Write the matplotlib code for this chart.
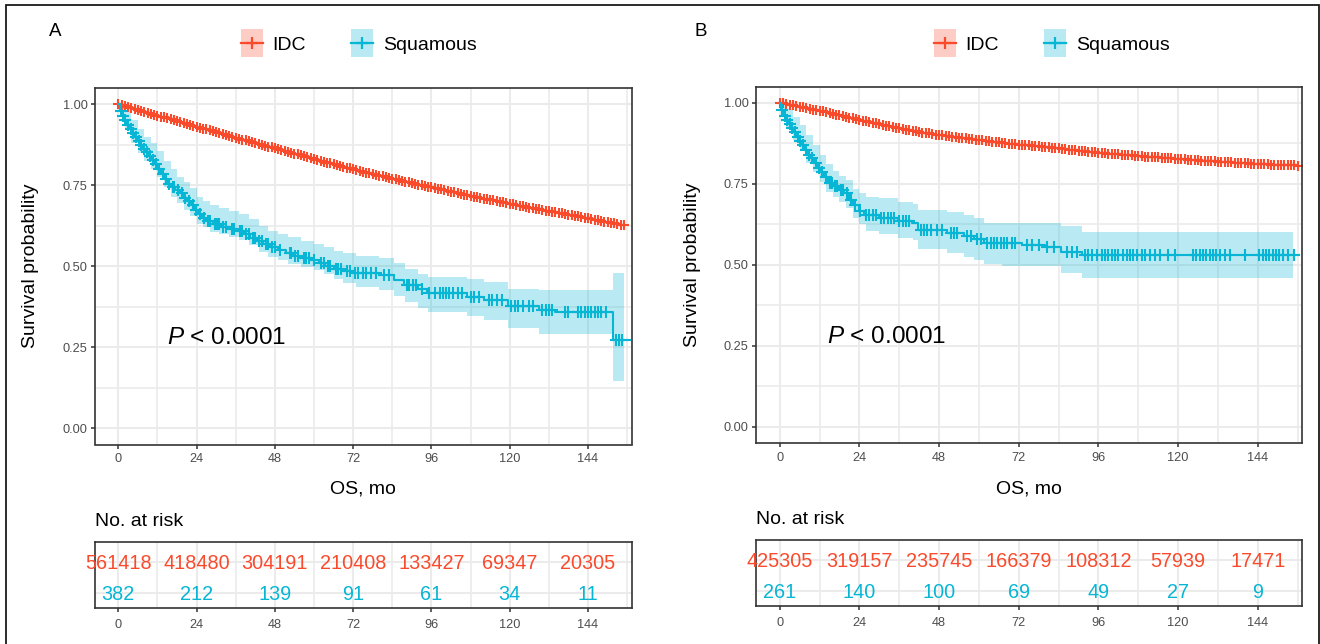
import numpy as np
import matplotlib
matplotlib.use("Agg")
import matplotlib.pyplot as plt
from matplotlib.lines import Line2D
from matplotlib.patches import Rectangle

plt.rcParams["font.family"] = ["Liberation Sans", "DejaVu Sans"]
plt.rcParams["mathtext.fontset"] = "custom"
plt.rcParams["mathtext.rm"] = "Liberation Sans"
plt.rcParams["mathtext.it"] = "Liberation Sans:italic"

RED = "#FA4A2C"
BLUE = "#06B6D4"
GRID = "#EBEBEB"
DARK = "#333333"

groups = ["IDC", "Squamous"]
risk_times = [0, 24, 48, 72, 96, 120, 144]
pval_text = r"$\mathit{P}$ < 0.0001"

# ---- panel A ----
# IDC survival read month by month (0..155)
a_idc = [1.000, .997, .994, .991, .988, .985, .982, .980, .977, .974, .971, .968,
         .965, .962, .959, .956, .953, .950, .947, .944, .942, .939, .936, .933,
         .930, .927, .924, .922, .919, .916, .913, .910, .908, .905, .902, .899,
         .897, .894, .891, .889, .886, .883, .880, .878, .875, .872, .869, .867,
         .864, .861, .858, .856, .853, .850, .847, .845, .842, .839, .836, .834,
         .831, .828, .826, .823, .820, .818, .815, .812, .810, .807, .804, .802,
         .799, .797, .794, .792, .789, .787, .784, .782, .779, .777, .774, .772,
         .770, .768, .765, .763, .761, .759, .756, .754, .752, .750, .747, .745,
         .743, .741, .739, .737, .734, .732, .730, .728, .726, .724, .721, .719,
         .717, .715, .713, .711, .709, .707, .705, .703, .701, .699, .697, .695,
         .693, .691, .689, .687, .685, .683, .681, .679, .678, .676, .674, .672,
         .670, .668, .666, .664, .663, .661, .659, .657, .655, .654, .652, .650,
         .648, .646, .644, .642, .640, .638, .636, .634, .632, .630, .628, .626]

a_sq_t = [0, 0.5, 1.2, 1.8, 2.6, 3.3, 4.2, 5.0, 5.8, 6.6,
          7.4, 8.2, 9.2, 10.2, 11.2, 12.2, 13.2, 14.2, 15.2, 16.2,
          17.5, 18.8, 20.0, 21.2, 22.4, 23.4, 24.4, 25.6, 27.0, 29.0,
          31.5, 34.0, 36.5, 38.5, 40.5, 42.5, 44.5, 46.5, 49.0, 51.5,
          53.5, 56.0, 59.0, 61.5, 63.5, 66.0, 69.0, 72.0, 80.0, 84.5,
          87.5, 92.0, 94.5, 107.0, 112.0, 119.5, 129.0, 134.0, 151.6, 156.8]
a_sq_s = [1.0, .98, .965, .95, .935, .925, .912, .90, .888, .875,
          .863, .852, .84, .828, .815, .80, .785, .77, .755, .745,
          .735, .725, .712, .70, .69, .675, .66, .65, .64, .63,
          .622, .615, .608, .598, .588, .578, .568, .558, .55, .54,
          .532, .526, .518, .51, .502, .493, .486, .478, .472, .457,
          .443, .43, .416, .406, .396, .376, .366, .36, .272, .272]
a_sq_cens = [0.8, 1.5, 2.2, 3.0, 3.8, 4.6, 5.4, 6.2, 7.0, 7.8, 8.7, 9.6, 10.6, 11.6,
             12.6, 13.6, 14.6, 15.6, 16.8, 17.2, 18.2, 19.4, 20.5, 21.6, 22.8, 23.8,
             25.0, 26.2, 27.5, 28.2, 29.5, 30.2, 31.0, 32.2, 33.0, 34.8, 35.5, 37.2,
             38.0, 39.2, 40.0, 41.2, 42.0, 43.2, 44.0, 45.2, 46.0, 47.2, 48.0, 49.5,
             52.5, 53.0, 54.2, 55.0, 56.8, 57.5, 58.5, 60.0, 62.2, 63.0, 64.2, 65.0,
             66.8, 67.5, 68.2, 70.0, 71.0, 72.5, 73.5, 75.0, 76.0, 77.5, 79.0, 81.5,
             83.0, 88.5, 89.2, 90.2, 91.2, 93.0, 95.2, 97.0, 98.5, 99.5, 100.5, 101.5,
             102.5, 104.0, 105.5, 108.0, 109.0, 110.5, 113.5, 114.5, 116.0, 117.5,
             120.5, 121.5, 122.5, 124.0, 126.0, 127.0, 130.0, 131.0, 132.0, 133.0,
             137.0, 138.0, 141.0, 142.0, 143.0, 144.0, 145.0, 146.0, 147.0, 148.0,
             149.5, 152.5, 153.5, 154.5]
a_ci_t = [0, 0.5, 2, 4, 6, 8, 10, 12, 14, 16,
          18, 20, 22, 24, 26, 28, 31, 34, 37, 40,
          43, 46, 49, 52, 56, 60, 63, 66, 69, 73,
          80, 84.5, 88, 92, 95, 107, 112, 119.5, 129, 151.6, 155]
a_ci_hi = [1.0, .995, .975, .95, .925, .90, .88, .855, .825, .80,
           .775, .76, .74, .715, .70, .69, .68, .67, .66, .645,
           .625, .61, .60, .59, .578, .57, .56, .548, .54, .532,
           .525, .51, .49, .476, .468, .46, .45, .43, .426, .48, .48]
a_ci_lo = [1.0, .96, .925, .88, .85, .825, .80, .775, .745, .715,
           .695, .675, .655, .63, .62, .605, .598, .59, .58, .565,
           .545, .53, .518, .508, .498, .488, .475, .46, .448, .435,
           .428, .408, .39, .372, .36, .345, .335, .308, .29, .145, .145]
a_risk_idc = [561418, 418480, 304191, 210408, 133427, 69347, 20305]
a_risk_sq = [382, 212, 139, 91, 61, 34, 11]

# ---- panel B ----
b_idc = [1.000, .998, .996, .994, .992, .990, .988, .986, .984, .981, .979, .977,
         .975, .973, .970, .968, .966, .963, .961, .959, .956, .954, .952, .949,
         .947, .945, .943, .941, .938, .936, .934, .932, .929, .927, .925, .923,
         .921, .919, .917, .915, .914, .912, .910, .908, .906, .905, .903, .901,
         .900, .899, .897, .896, .895, .894, .892, .891, .890, .889, .887, .886,
         .885, .884, .883, .881, .880, .879, .878, .877, .876, .874, .873, .872,
         .871, .870, .869, .868, .867, .866, .865, .864, .863, .862, .861, .860,
         .859, .858, .857, .855, .854, .853, .852, .851, .850, .849, .848, .847,
         .846, .845, .844, .843, .843, .842, .841, .840, .839, .838, .838, .837,
         .836, .835, .834, .833, .833, .832, .831, .830, .829, .828, .828, .827,
         .826, .825, .825, .824, .823, .823, .822, .821, .821, .820, .819, .819,
         .818, .817, .817, .816, .816, .815, .814, .814, .813, .813, .812, .812,
         .811, .811, .810, .810, .809, .809, .809, .808, .808, .807, .807, .807, .806]

b_sq_t = [0, 0.4, 1.2, 1.8, 2.6, 3.4, 4.2, 5.0, 5.8, 6.6,
          7.4, 8.4, 9.4, 10.4, 11.4, 12.4, 13.4, 14.6, 16.0, 18.0,
          19.5, 21.0, 22.2, 23.8, 25.5, 30.0, 35.5, 39.8, 41.6, 50.5,
          55.5, 58.5, 61.5, 73.0, 80.0, 84.8, 91.0, 156.5]
b_sq_s = [1.0, .977, .96, .947, .935, .922, .91, .895, .882, .868,
          .855, .84, .828, .815, .80, .785, .77, .752, .742, .732,
          .72, .70, .683, .666, .655, .645, .635, .628, .608, .598,
          .59, .578, .566, .56, .556, .538, .53, .53]
b_sq_cens = [0.8, 1.5, 2.2, 3.0, 3.8, 4.6, 5.4, 6.2, 7.0, 7.8, 8.8, 9.8, 10.8, 11.8,
             12.8, 13.8, 15.0, 15.6, 16.5, 17.2, 18.5, 19.0, 20.2, 21.5, 22.6, 24.2,
             26.0, 27.0, 28.0, 29.0, 30.5, 31.5, 32.5, 33.5, 34.5, 36.0, 37.0, 38.0,
             38.8, 42.5, 43.5, 44.5, 45.5, 47.5, 49.0, 51.5, 52.5, 53.5, 56.5, 57.5,
             59.5, 60.5, 62.5, 63.5, 64.5, 65.5, 66.5, 67.5, 68.5, 70.0, 71.0, 74.5,
             76.0, 78.0, 80.5, 82.5, 86.5, 88.0, 89.5, 92.0, 93.0, 94.0, 95.5, 97.0,
             98.0, 99.0, 100.0, 101.0, 102.0, 103.5, 104.5, 105.5, 106.5, 107.5, 109.0,
             110.0, 111.5, 113.0, 114.5, 117.0, 119.0, 124.5, 125.5, 126.5, 127.5,
             128.5, 129.5, 130.5, 131.5, 132.5, 134.0, 135.5, 140.0, 144.5, 145.5,
             146.5, 147.5, 148.5, 149.5, 150.5, 151.5, 153.0, 155.0]
b_ci_t = [0, 0.4, 2, 4, 6, 8, 10, 12, 14, 16,
          18, 20, 22, 24, 26, 30, 35.5, 40, 41.6, 50.5,
          55.5, 58.5, 61.5, 67, 84.8, 91, 154.5]
b_ci_hi = [1.0, .995, .98, .955, .93, .90, .87, .84, .81, .79,
           .775, .76, .735, .72, .71, .705, .695, .688, .67, .663,
           .655, .643, .63, .628, .62, .602, .602]
b_ci_lo = [1.0, .955, .92, .885, .85, .815, .785, .755, .725, .71,
           .695, .675, .645, .625, .605, .595, .582, .575, .548, .535,
           .525, .515, .502, .495, .475, .458, .458]
b_risk_idc = [425305, 319157, 235745, 166379, 108312, 57939, 17471]
b_risk_sq = [261, 140, 100, 69, 49, 27, 9]

W, H = 1320, 644
XLIM = (-7.15, 157.4)


def box(l, t, r, b):
    return [l / W, 1 - b / H, (r - l) / W, (b - t) / H]


def style_common(ax):
    ax.set_xlim(*XLIM)
    ax.set_xticks(risk_times)
    ax.set_xticks(np.arange(12, 160, 24), minor=True)
    ax.grid(which="major", color=GRID, lw=1.5)
    ax.grid(which="minor", color=GRID, lw=1.2)
    ax.set_axisbelow(True)
    for sp in ax.spines.values():
        sp.set_color(DARK)
        sp.set_linewidth(1.2)
    ax.tick_params(which="major", length=3.1, width=1.1, color=DARK,
                   labelcolor="#4D4D4D", labelsize=9.2)
    ax.tick_params(which="minor", length=0)


def draw_main(ax, idc_s, sq_t, sq_s, sq_c, ci_t, ci_hi, ci_lo, px):
    style_common(ax)
    ax.set_ylim(-0.05, 1.05)
    ax.set_yticks([0, 0.25, 0.5, 0.75, 1.0])
    ax.set_yticklabels(["0.00", "0.25", "0.50", "0.75", "1.00"])
    ax.set_yticks([0.125, 0.375, 0.625, 0.875], minor=True)
    ax.tick_params(axis="x", pad=3.2)
    ax.tick_params(axis="y", pad=2.2)

    idc_t = np.arange(len(idc_s))
    ax.fill_between(ci_t, ci_lo, ci_hi, step="post", color=BLUE, alpha=0.28, lw=0)
    ax.step(idc_t, idc_s, where="post", color=RED, lw=1.6)
    ax.plot(idc_t, idc_s, ls="none", marker="+", ms=7.5, mew=1.5, color=RED)
    ax.step(sq_t, sq_s, where="post", color=BLUE, lw=1.5)
    idx = np.searchsorted(sq_t, sq_c, side="right") - 1
    ax.plot(sq_c, np.asarray(sq_s)[idx], ls="none", marker="+", ms=8.5,
            mew=1.5, color=BLUE)
    ax.text(px, 0.278, pval_text, fontsize=17.5, ha="left", va="center")


def draw_risk(ax, r_idc, r_sq):
    style_common(ax)
    ax.set_ylim(0.525, 2.614)
    ax.set_yticks([1, 2])
    ax.set_yticklabels([])
    ax.tick_params(axis="y", length=0)
    ax.tick_params(axis="x", pad=4.8)
    for t, n1, n2 in zip(risk_times, r_idc, r_sq):
        ax.text(t, 2 - 0.227, str(n1), color=RED, fontsize=14.3,
                ha="center", va="baseline")
        ax.text(t, 1 - 0.227, str(n2), color=BLUE, fontsize=14.3,
                ha="center", va="baseline")


class KMKey:
    def __init__(self, color):
        self.color = color

    def legend_artist(self, legend, orig_handle, fontsize, handlebox):
        w = handlebox.width
        yc = 0.358 * fontsize
        hh = 1.44 * fontsize
        tr = handlebox.get_transform()
        rect = Rectangle((0, yc - hh / 2), w, hh, facecolor=self.color,
                         alpha=0.28, edgecolor="none", transform=tr)
        line = Line2D([0, w], [yc, yc], color=self.color, lw=1.6, transform=tr)
        mark = Line2D([w / 2], [yc], color=self.color, marker="+", ms=8.5,
                      mew=1.6, transform=tr)
        for a in (rect, line, mark):
            handlebox.add_artist(a)
        return rect


fig = plt.figure(figsize=(13.2, 6.44), dpi=100)

panels = [
    dict(label="A", lx=49, main=box(95, 88, 631.7, 444.5), risk=box(95, 542.3, 631.7, 608.3),
         ylab_x=31, leg_x=358.5, px=15.0,
         data=(a_idc, a_sq_t, a_sq_s, a_sq_cens, a_ci_t, a_ci_hi, a_ci_lo),
         risk_n=(a_risk_idc, a_risk_sq)),
    dict(label="B", lx=694, main=box(756, 86.5, 1302.3, 443), risk=box(756, 540.3, 1302.3, 606.3),
         ylab_x=692, leg_x=1051.5, px=14.1,
         data=(b_idc, b_sq_t, b_sq_s, b_sq_cens, b_ci_t, b_ci_hi, b_ci_lo),
         risk_n=(b_risk_idc, b_risk_sq)),
]

for p in panels:
    ax = fig.add_axes(p["main"])
    draw_main(ax, *p["data"], p["px"])
    rax = fig.add_axes(p["risk"])
    draw_risk(rax, *p["risk_n"])

    l, b, w, h = p["main"]
    fig.text(p["ylab_x"] / W, b + h / 2, "Survival probability", rotation=90,
             fontsize=14, ha="center", va="center")
    fig.text(l + w / 2, 1 - 489 / H, "OS, mo", fontsize=14, ha="center", va="center")
    rl, rb, rw, rh = p["risk"]
    fig.text(rl, rb + rh + 21 / H, "No. at risk", fontsize=14, ha="left", va="center")
    fig.text(p["lx"] / W, 1 - 31 / H, p["label"], fontsize=13.5, ha="left", va="center")

    handles = [Line2D([], []), Line2D([], [])]
    fig.legend(handles, groups, loc="center", bbox_to_anchor=(p["leg_x"] / W, 1 - 45 / H),
               ncol=2, frameon=False, fontsize=14, handlelength=1.13, handleheight=0.7,
               handletextpad=0.51, columnspacing=2.31, borderpad=0, borderaxespad=0,
               handler_map={handles[0]: KMKey(RED), handles[1]: KMKey(BLUE)})

fig.add_artist(Rectangle((6 / W, -0.05), (1319 - 6) / W, 1.05 - 5 / H,
                         transform=fig.transFigure, fill=False, ec="#1a1a1a", lw=1.3))

fig.savefig("out.png", dpi=100)
